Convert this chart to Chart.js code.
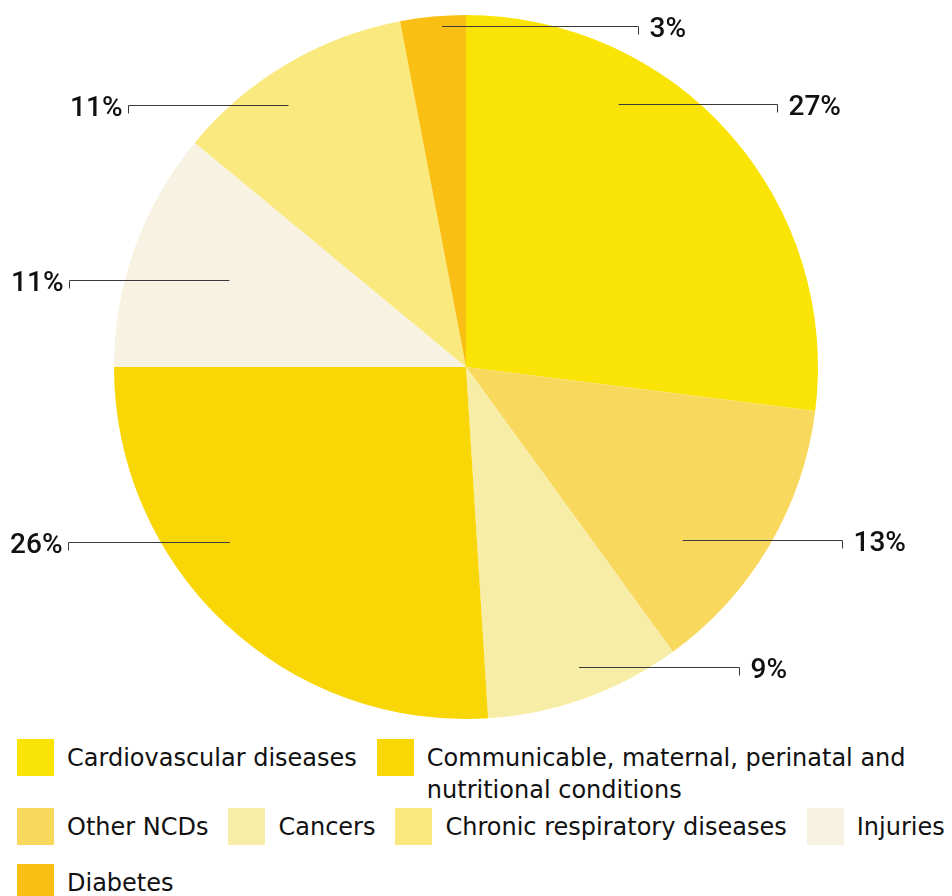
<!DOCTYPE html>
<html>
<head>
<meta charset="utf-8">
<script src="https://cdn.jsdelivr.net/npm/chart.js@4/dist/chart.umd.min.js"></script>
<style>
  body { margin: 0; background: #fff; font-family: "DejaVu Sans", sans-serif; color: #111; }
  #wrap { position: relative; width: 952px; height: 896px; overflow: hidden; }
  #chartBox { position: absolute; left: 0; top: 0; width: 952px; height: 734px; }
  .row { position: absolute; left: 17px; display: flex; align-items: flex-start; gap: 20px; }
  .item { display: flex; align-items: flex-start; }
  .swatch { width: 37px; height: 37px; flex: none; }
  .text { margin-left: 13px; padding-top: 3px; font-size: 24px; line-height: 32px; white-space: nowrap; }
  .text.wrap { white-space: normal; max-width: 530px; }
</style>
</head>
<body>
<div id="wrap">
  <div id="chartBox"><canvas id="pie-chart"></canvas></div>
  <div id="legend"></div>
</div>
<script>
const categories = [
  'Cardiovascular diseases',
  'Other NCDs',
  'Cancers',
  'Communicable, maternal, perinatal and nutritional conditions',
  'Injuries',
  'Chronic respiratory diseases',
  'Diabetes'
];
const shares = [27, 13, 9, 26, 11, 11, 3];
const colors = ['#F9E406', '#F9D85E', '#F8EDA6', '#F9D606', '#F8F2E2', '#FAE97E', '#F9BF14'];

// legend order, row by row (indexes into categories)
const legendRows = [[0, 3], [1, 2, 5, 4], [6]];
const legendTops = [739, 808, 864];

// where each leader line starts inside its slice: t = share of slice angle, r = share of radius
const leaders = [
  { t: 0.31, r: 0.864, len: 158, side: 1 },
  { t: 0.67, r: 0.787, len: 159, side: 1 },
  { t: 0.475, r: 0.912, len: 160, side: 1 },
  { t: 0.61, r: 0.835, len: 162, side: -1 },
  { t: 0.51, r: 0.716, len: 160, side: -1 },
  { t: 0.41, r: 0.898, len: 160, side: -1 },
  { t: 0.63, r: 0.972, len: 196, side: 1 }
];

const leaderLabels = {
  id: 'leaderLabels',
  afterDatasetsDraw(chart) {
    const ctx = chart.ctx;
    const meta = chart.getDatasetMeta(0);
    ctx.save();
    meta.data.forEach((arc, i) => {
      const p = arc.getProps(['x', 'y', 'startAngle', 'endAngle', 'outerRadius'], true);
      const cfg = leaders[i];
      const a = p.startAngle + cfg.t * (p.endAngle - p.startAngle);
      const sx = p.x + Math.cos(a) * cfg.r * p.outerRadius;
      const sy = Math.round(p.y + Math.sin(a) * cfg.r * p.outerRadius) + 0.5;
      const right = cfg.side > 0;
      const ex = Math.round(sx + cfg.side * cfg.len) + 0.5;

      ctx.strokeStyle = '#3a3a3a';
      ctx.lineWidth = 1;
      ctx.beginPath();
      ctx.moveTo(sx, sy);
      ctx.lineTo(ex, sy);
      ctx.lineTo(ex, sy + 8);
      ctx.stroke();

      ctx.fillStyle = '#111';
      ctx.font = '500 28px Roboto, "Noto Sans", sans-serif';
      ctx.textBaseline = 'middle';
      ctx.textAlign = right ? 'left' : 'right';
      ctx.fillText(shares[i] + '%', right ? ex + 11 : ex - 6, sy + 3);
    });
    ctx.restore();
  }
};

new Chart(document.getElementById('pie-chart'), {
  type: 'pie',
  data: {
    labels: categories,
    datasets: [{
      data: shares,
      backgroundColor: colors,
      borderWidth: 0
    }]
  },
  options: {
    responsive: true,
    maintainAspectRatio: false,
    animation: false,
    layout: { padding: { top: 15, bottom: 15, left: 0, right: 20 } },
    plugins: {
      legend: { display: false },
      tooltip: { enabled: false }
    }
  },
  plugins: [leaderLabels]
});

// html legend below the pie
const legend = document.getElementById('legend');
legendRows.forEach((row, r) => {
  const rowEl = document.createElement('div');
  rowEl.className = 'row';
  rowEl.style.top = legendTops[r] + 'px';
  row.forEach(i => {
    const item = document.createElement('div');
    item.className = 'item';
    const sw = document.createElement('div');
    sw.className = 'swatch';
    sw.style.background = colors[i];
    const tx = document.createElement('div');
    tx.className = 'text' + (categories[i].length > 40 ? ' wrap' : '');
    tx.textContent = categories[i];
    item.appendChild(sw);
    item.appendChild(tx);
    rowEl.appendChild(item);
  });
  legend.appendChild(rowEl);
});
</script>
</body>
</html>
